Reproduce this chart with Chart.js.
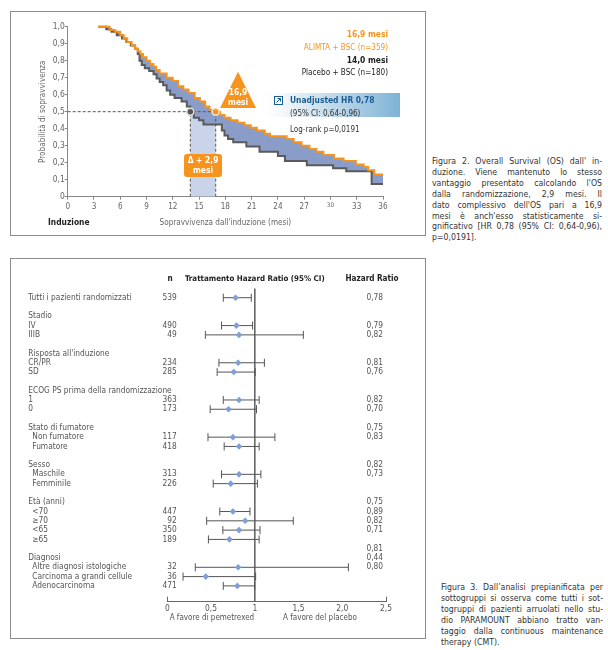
<!DOCTYPE html>
<html>
<head>
<meta charset="utf-8">
<script src="https://cdn.jsdelivr.net/npm/chart.js@4.4.1/dist/chart.umd.min.js"></script>
<style>
html, body { margin: 0; padding: 0; background: #fff; }
body { width: 608px; height: 650px; position: relative; overflow: hidden; }
.box { position: absolute; border: 1px solid #8c8c8c; box-sizing: border-box; }
.wrap { position: absolute; }
.cap { position: absolute; color: #333; }
.cap div { white-space: nowrap; text-align: justify; text-align-last: justify; }
.cap div.last { text-align-last: left; }
</style>
</head>
<body>
<div class="box" style="left:10px;top:11px;width:416px;height:225px;"></div>
<div class="box" style="left:10px;top:258px;width:416px;height:381px;"></div>
<div class="wrap" style="left:10px;top:11px;width:415px;height:224px;"><canvas id="kmChart"></canvas></div>
<div class="wrap" style="left:10px;top:258px;width:415px;height:380px;"><canvas id="forestChart"></canvas></div>

<div class="cap" id="cap2" style="left:432px;top:156px;width:170px;">
  <div>Figura 2. Overall Survival (OS) dall' in-</div>
  <div>duzione. Viene mantenuto lo stesso</div>
  <div>vantaggio presentato calcolando l'OS</div>
  <div>dalla randomizzazione, 2,9 mesi. Il</div>
  <div>dato complessivo dell'OS pari a 16,9</div>
  <div>mesi è anch'esso statisticamente si-</div>
  <div>gnificativo [HR 0,78 (95% CI: 0,64-0,96),</div>
  <div class="last">p=0,0191].</div>
</div>
<div class="cap" id="cap3" style="left:441px;top:582px;width:162px;">
  <div>Figura 3. Dall’analisi prepianificata per</div>
  <div>sottogruppi si osserva come tutti i sot-</div>
  <div>togruppi di pazienti arruolati nello stu-</div>
  <div>dio PARAMOUNT abbiano tratto van-</div>
  <div>taggio dalla continuous maintenance</div>
  <div class="last">therapy (CMT).</div>
</div>

<script>
// Kaplan-Meier curves (months from induction, survival probability)
const alimtaMonths = [3.5, 4.8, 5.4, 6.0, 6.4, 6.8, 7.3, 7.7, 8.0, 8.3, 8.6, 9.0, 9.4, 9.8, 10.1, 10.5, 11.3, 12.0, 12.6, 13.2, 13.8, 14.5, 15.1, 15.7, 16.2, 16.9, 17.4, 17.9, 18.6, 19.4, 20.2, 20.9, 21.6, 22.5, 23.1, 25.0, 25.8, 26.7, 27.6, 28.4, 29.2, 30.4, 31.5, 32.9, 33.8, 34.3, 35.0, 36.0];
const alimtaSurv = [1.0, 0.98, 0.97, 0.95, 0.93, 0.91, 0.89, 0.87, 0.855, 0.84, 0.82, 0.80, 0.78, 0.765, 0.745, 0.725, 0.70, 0.68, 0.65, 0.63, 0.61, 0.58, 0.56, 0.53, 0.51, 0.50, 0.48, 0.465, 0.45, 0.435, 0.42, 0.405, 0.39, 0.37, 0.355, 0.34, 0.32, 0.30, 0.28, 0.265, 0.245, 0.225, 0.21, 0.19, 0.175, 0.155, 0.13, 0.13];
const placeboMonths = [3.5, 4.4, 5.0, 5.6, 6.2, 6.7, 7.2, 7.7, 8.0, 8.2, 8.45, 8.8, 9.3, 9.8, 10.15, 10.5, 10.9, 11.3, 11.7, 12.2, 13.0, 13.6, 14.0, 14.4, 15.0, 15.5, 17.6, 17.9, 18.3, 18.9, 20.4, 21.9, 24.0, 24.8, 27.3, 30.3, 31.8, 34.7, 36.0];
const placeboSurv = [1.0, 0.985, 0.97, 0.95, 0.93, 0.91, 0.89, 0.87, 0.84, 0.80, 0.775, 0.755, 0.74, 0.72, 0.695, 0.675, 0.655, 0.625, 0.60, 0.58, 0.56, 0.53, 0.50, 0.465, 0.45, 0.425, 0.39, 0.36, 0.34, 0.32, 0.295, 0.265, 0.24, 0.21, 0.185, 0.167, 0.15, 0.075, 0.075];
const medianAlimta = 16.9;
const medianPlacebo = 14.0;
const survTickLabels = ['0', '0,1', '0,2', '0,3', '0,4', '0,5', '0,6', '0,7', '0,8', '0,9', '1,0'];

// Forest plot (subgroup hazard ratios)
const groupLabels = ['Tutti i pazienti randomizzati', 'Stadio', 'IV', 'IIIB', 'Risposta all\'induzione', 'CR/PR', 'SD',
  'ECOG PS prima della randomizzazione', '1', '0', 'Stato di fumatore', 'Non fumatore', 'Fumatore', 'Sesso', 'Maschile',
  'Femminile', 'Età (anni)', '<70', '≥70', '<65', '≥65', 'Diagnosi', 'Altre diagnosi istologiche',
  'Carcinoma a grandi cellule', 'Adenocarcinoma'];
const groupRows = [0, 2, 3, 4, 6, 7, 8, 10, 11, 12, 14, 15, 16, 18, 19, 20, 22, 23, 24, 25, 26, 28, 29, 30, 31];
const groupIndent = [0, 0, 0, 0, 0, 0, 0, 0, 0, 0, 0, 1, 1, 0, 1, 1, 0, 1, 1, 1, 1, 0, 1, 1, 1];
const subRows = [0, 3, 4, 7, 8, 11, 12, 15, 16, 19, 20, 23, 24, 25, 26, 29, 30, 31];
const subN = ['539', '490', '49', '234', '285', '363', '173', '117', '418', '313', '226', '447', '92', '350', '189', '32', '36', '471'];
const hrPoint = [0.78, 0.79, 0.82, 0.81, 0.76, 0.82, 0.70, 0.75, 0.82, 0.82, 0.725, 0.75, 0.89, 0.82, 0.71, 0.81, 0.44, 0.80];
const hrLow = [0.64, 0.62, 0.435, 0.59, 0.57, 0.64, 0.49, 0.465, 0.65, 0.62, 0.525, 0.60, 0.45, 0.635, 0.47, 0.32, 0.18, 0.64];
const hrHigh = [0.96, 0.975, 1.555, 1.11, 1.005, 1.05, 1.02, 1.23, 1.05, 1.07, 1.03, 0.945, 1.44, 1.06, 1.05, 2.07, 1.01, 1.0];
const hrText = ['0,78', '0,79', '0,82', '0,81', '0,76', '0,82', '0,70', '0,75', '0,83', '0,82', '0,73', '0,75', '0,89', '0,82', '0,71', '0,81', '0,44', '0,80'];
const hrTextRows = [0, 3, 4, 7, 8, 11, 12, 14, 15, 18, 19, 22, 23, 24, 25, 27, 28, 29];
const forestTickLabels = ['0', '0,5', '1', '1,5', '2,0', '2,5'];

// pick a narrow font that is actually installed
function hasFont(name) {
    const c = document.createElement('canvas').getContext('2d');
    const s = 'Sopravvivenza dall\'induzione 0123 WMi';
    c.font = '20px monospace';
    const a = c.measureText(s).width;
    c.font = '20px "' + name + '", monospace';
    return c.measureText(s).width !== a;
}
const candidates = ['Liberation Sans Narrow', 'DejaVu Sans Condensed', 'Roboto Condensed', 'Roboto'];
let FAMILY = 'sans-serif';
for (const f of candidates) {
    if (hasFont(f)) { FAMILY = '"' + f + '", sans-serif'; break; }
}
// scale font sizes so the text widths match the picture
const mctx = document.createElement('canvas').getContext('2d');
mctx.font = '10px ' + FAMILY;
const SCALE = 132 / mctx.measureText('Sopravvivenza dall\'induzione (mesi)').width;
function fs(n) { return Math.round(n * SCALE * 10) / 10; }

document.querySelectorAll('.cap').forEach(function(el) {
    el.style.fontFamily = FAMILY;
    el.style.fontSize = fs(10.7) + 'px';
    el.style.lineHeight = '10.9px';
});

Chart.defaults.font.family = FAMILY;
Chart.defaults.color = '#555';
Chart.defaults.animation = false;

function txt(ctx, s, x, y, size, weight, color, align) {
    ctx.font = (weight || 'normal') + ' ' + fs(size) + 'px ' + FAMILY;
    ctx.fillStyle = color;
    ctx.textAlign = align || 'left';
    ctx.textBaseline = 'middle';
    ctx.fillText(s, x, y);
}

const ORANGE = '#f7941d';
const DARK = '#5a5a5a';

// ---------- Kaplan-Meier chart ----------
const kmDecor = {
    id: 'kmDecor',
    beforeDatasetsDraw(chart) {
        const ctx = chart.ctx;
        ctx.save();
        const g = ctx.createLinearGradient(245, 0, 390, 0);
        g.addColorStop(0, 'rgba(255,255,255,0)');
        g.addColorStop(0.3, '#e2edf5');
        g.addColorStop(1, '#7fb3d5');
        ctx.fillStyle = g;
        ctx.fillRect(245, 82, 145, 24);
        ctx.restore();
    },
    afterDraw(chart) {
        const ctx = chart.ctx;
        const x = chart.scales.x, y = chart.scales.y;
        const area = chart.chartArea;
        ctx.save();
        // y title
        ctx.translate(33, (area.top + area.bottom) / 2);
        ctx.rotate(-Math.PI / 2);
        txt(ctx, 'Probabilità di sopravvivenza', 0, 0, 10, 'normal', '#666', 'center');
        ctx.restore();
        ctx.save();
        txt(ctx, 'Induzione', 38, 212, 10.4, 'bold', '#222', 'left');

        // legend
        txt(ctx, '16,9 mesi', 378, 24, 10.4, 'bold', ORANGE, 'right');
        txt(ctx, 'ALIMTA + BSC (n=359)', 378, 36.7, 10, 'normal', ORANGE, 'right');
        txt(ctx, '14,0 mesi', 378, 50, 10.4, 'bold', '#222', 'right');
        txt(ctx, 'Placebo + BSC (n=180)', 378, 61.7, 10, 'normal', '#222', 'right');

        // triangle with median
        const tx = x.getPixelForValue(19.45);
        const tTop = y.getPixelForValue(0.735);
        const tBase = y.getPixelForValue(0.522);
        ctx.beginPath();
        ctx.moveTo(tx, tTop);
        ctx.lineTo(tx + 18, tBase);
        ctx.lineTo(tx - 18, tBase);
        ctx.closePath();
        ctx.fillStyle = ORANGE;
        ctx.fill();
        txt(ctx, '16,9', tx, tBase - 15, 10.4, 'bold', '#fff', 'center');
        txt(ctx, 'mesi', tx, tBase - 5, 10.4, 'bold', '#fff', 'center');

        // delta box
        const dx = x.getPixelForValue((medianAlimta + medianPlacebo) / 2);
        const dy = y.getPixelForValue(0.183);
        ctx.beginPath();
        ctx.roundRect(dx - 19, dy - 11.5, 38, 23, 3);
        ctx.fillStyle = ORANGE;
        ctx.fill();
        txt(ctx, 'Δ + 2,9', dx, dy - 5, 10.4, 'bold', '#fff', 'center');
        txt(ctx, 'mesi', dx, dy + 5.5, 10.4, 'bold', '#fff', 'center');

        // HR icon + text
        ctx.strokeStyle = '#1b5e94';
        ctx.lineWidth = 1;
        ctx.strokeRect(264.5, 85.5, 8, 8);
        ctx.beginPath();
        ctx.moveTo(266.5, 91.5); ctx.lineTo(270.5, 87.5);
        ctx.moveTo(267.5, 87.5); ctx.lineTo(270.5, 87.5); ctx.lineTo(270.5, 90.5);
        ctx.stroke();
        txt(ctx, 'Unadjusted HR 0,78', 280, 90, 10.4, 'bold', '#1b5e94', 'left');
        txt(ctx, '(95% CI: 0,64-0,96)', 280, 103, 9.8, 'normal', '#333', 'left');
        txt(ctx, 'Log-rank p=0,0191', 280, 119, 9.8, 'normal', '#333', 'left');
        ctx.restore();
    }
};

const kmPts = (xs, ys) => xs.map((m, i) => ({ x: m, y: ys[i] }));

new Chart(document.getElementById('kmChart'), {
    type: 'line',
    data: {
        datasets: [
            { data: [{ x: medianPlacebo, y: 0.5 }], showLine: false, pointRadius: 3.5, pointBackgroundColor: '#555', pointBorderColor: '#e2e2e2', pointBorderWidth: 1.5, clip: false },
            { data: [{ x: medianAlimta, y: 0.5 }], showLine: false, pointRadius: 3.5, pointBackgroundColor: ORANGE, pointBorderColor: '#f6e4cc', pointBorderWidth: 1.5, clip: false },
            { data: [{ x: 0, y: 0.5 }, { x: medianAlimta, y: 0.5 }], borderColor: '#555', borderWidth: 1, borderDash: [3, 2], pointRadius: 0 },
            { data: [{ x: medianPlacebo, y: 0 }, { x: medianPlacebo, y: 0.5 }], borderColor: '#555', borderWidth: 1, borderDash: [3, 2], pointRadius: 0 },
            { data: [{ x: medianAlimta, y: 0 }, { x: medianAlimta, y: 0.5 }], borderColor: '#555', borderWidth: 1, borderDash: [3, 2], pointRadius: 0 },
            { label: 'ALIMTA + BSC', data: kmPts(alimtaMonths, alimtaSurv), stepped: true, borderColor: ORANGE, borderWidth: 2, pointRadius: 0, fill: '+1', backgroundColor: '#8a9dc9', clip: false },
            { label: 'Placebo + BSC', data: kmPts(placeboMonths, placeboSurv), stepped: true, borderColor: DARK, borderWidth: 2, pointRadius: 0, fill: false, clip: false },
            { data: [{ x: medianPlacebo, y: 0.5 }, { x: medianAlimta, y: 0.5 }], borderColor: 'rgba(0,0,0,0)', borderWidth: 0, pointRadius: 0, fill: 'origin', backgroundColor: '#c9d3ea' }
        ]
    },
    options: {
        responsive: true,
        maintainAspectRatio: false,
        layout: { padding: { left: 0, top: 15.7, right: 42, bottom: 0 } },
        plugins: { legend: { display: false }, tooltip: { enabled: false }, filler: { drawTime: 'beforeDatasetsDraw' } },
        scales: {
            x: {
                type: 'linear', min: 0, max: 36,
                afterFit: (s) => { s.height = 38.3; },
                border: { color: '#888' },
                grid: { drawOnChartArea: false, tickLength: 3, color: '#888' },
                ticks: {
                    stepSize: 3, autoSkip: false, maxRotation: 0, padding: 2, color: '#666',
                    font: (c) => ({ size: c.tick && c.tick.value === 30 ? fs(7.8) : fs(10) })
                },
                title: { display: true, text: 'Sopravvivenza dall\'induzione (mesi)', color: '#666', font: { size: fs(10) }, padding: { top: 0, bottom: 7 } }
            },
            y: {
                min: 0, max: 1,
                afterFit: (s) => { s.width = 57.7; },
                border: { color: '#888' },
                grid: { drawOnChartArea: false, tickLength: 3, color: '#888' },
                ticks: { stepSize: 0.1, padding: 0, color: '#666', font: { size: fs(10.4) }, callback: (v) => survTickLabels[Math.round(v * 10)] }
            }
        }
    },
    plugins: [kmDecor]
});

// ---------- Forest plot ----------
const whiskerPts = [];
const capPts = [];
subRows.forEach((r, i) => {
    whiskerPts.push({ x: hrLow[i], y: r }, { x: hrHigh[i], y: r }, { x: hrHigh[i], y: null });
    capPts.push({ x: hrLow[i], y: r }, { x: hrHigh[i], y: r });
});

const forestDecor = {
    id: 'forestDecor',
    afterDraw(chart) {
        const ctx = chart.ctx;
        const x = chart.scales.x, y = chart.scales.y;
        const area = chart.chartArea;
        ctx.save();
        txt(ctx, 'n', 160, 21, 10, 'bold', '#222', 'center');
        txt(ctx, 'Trattamento Hazard Ratio (95% CI)', x.getPixelForValue(1), 21, 9.7, 'bold', '#222', 'center');
        txt(ctx, 'Hazard Ratio', 362, 21, 10, 'bold', '#222', 'center');
        groupLabels.forEach((s, i) => {
            txt(ctx, s, 18.3 + groupIndent[i] * 4, y.getPixelForValue(groupRows[i]), 10.2, 'normal', '#555', 'left');
        });
        subRows.forEach((r, i) => {
            txt(ctx, subN[i], 166.7, y.getPixelForValue(r), 10.2, 'normal', '#555', 'right');
        });
        hrTextRows.forEach((r, i) => {
            txt(ctx, hrText[i], 373, y.getPixelForValue(r), 10.2, 'normal', '#555', 'right');
        });
        // end ticks of the axis
        ctx.strokeStyle = '#666';
        ctx.lineWidth = 1;
        ctx.beginPath();
        [0, 2.5].forEach((v) => {
            const px = Math.round(x.getPixelForValue(v)) + 0.5;
            ctx.moveTo(px, area.bottom);
            ctx.lineTo(px, area.bottom - 5);
        });
        ctx.stroke();
        txt(ctx, 'A favore di pemetrexed', x.getPixelForValue(0.51), 360, 9.8, 'normal', '#555', 'center');
        txt(ctx, 'A favore del placebo', x.getPixelForValue(1.745), 360, 9.8, 'normal', '#555', 'center');
        ctx.restore();
    }
};

new Chart(document.getElementById('forestChart'), {
    type: 'line',
    data: {
        datasets: [
            { data: subRows.map((r, i) => ({ x: hrPoint[i], y: r })), showLine: false, pointStyle: 'rectRot', pointRadius: 3.3, pointBackgroundColor: '#7f9fd6', pointBorderWidth: 0, clip: false },
            { data: capPts, showLine: false, pointStyle: 'line', rotation: 90, pointRadius: 4, pointBorderColor: '#555', pointBorderWidth: 1, clip: false },
            { data: whiskerPts, borderColor: '#555', borderWidth: 1, pointRadius: 0, spanGaps: false, clip: false },
            { data: [{ x: 1, y: -1 }, { x: 1, y: 32.7 }], borderColor: '#666', borderWidth: 1, pointRadius: 0 }
        ]
    },
    options: {
        responsive: true,
        maintainAspectRatio: false,
        layout: { padding: { left: 157.3, top: 30.4, right: 39, bottom: 0 } },
        plugins: { legend: { display: false }, tooltip: { enabled: false } },
        scales: {
            x: {
                type: 'linear', min: 0, max: 2.5,
                afterFit: (s) => { s.height = 36.3; },
                border: { color: '#666' },
                grid: { display: false, drawTicks: false },
                ticks: { stepSize: 0.5, autoSkip: false, maxRotation: 0, padding: 2, color: '#555', font: { size: fs(10.3) }, callback: (v) => forestTickLabels[Math.round(v * 2)] }
            },
            y: { type: 'linear', reverse: true, min: -1, max: 32.7, display: false }
        }
    },
    plugins: [forestDecor]
});
</script>
</body>
</html>
